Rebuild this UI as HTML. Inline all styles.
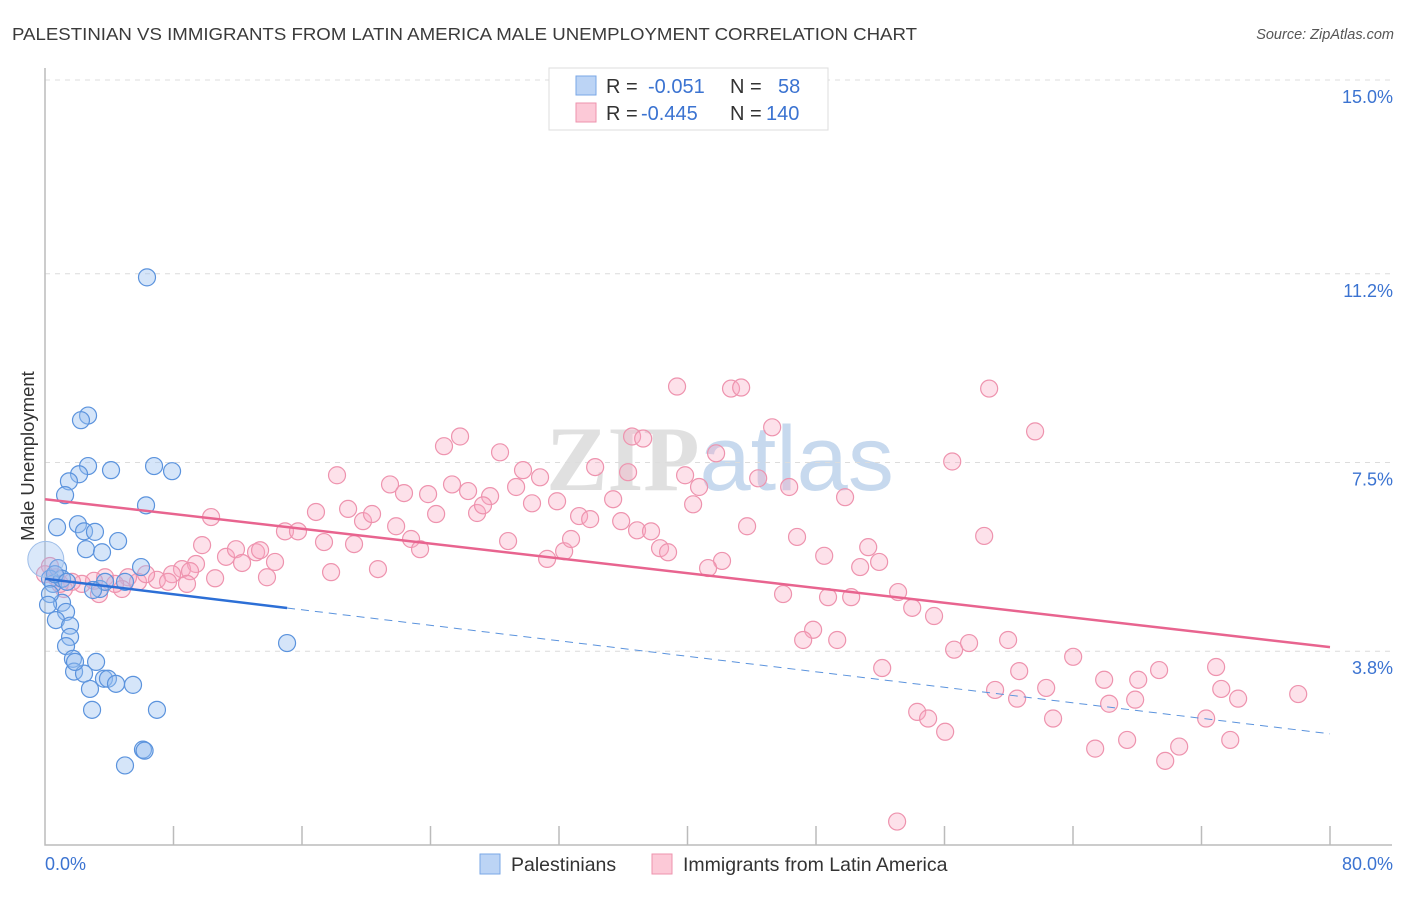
<!DOCTYPE html>
<html><head><meta charset="utf-8"><style>
body{margin:0;background:#fff;font-family:"Liberation Sans",sans-serif}
</style></head><body>
<svg id="chart" width="1406" height="892" viewBox="0 0 1406 892" xmlns="http://www.w3.org/2000/svg" font-family="Liberation Sans, sans-serif">
<text x="12" y="40" font-size="17.5" fill="#3a3a3a" textLength="905" lengthAdjust="spacingAndGlyphs">PALESTINIAN VS IMMIGRANTS FROM LATIN AMERICA MALE UNEMPLOYMENT CORRELATION CHART</text>
<text x="1394" y="39" font-size="14.5" fill="#555" font-style="italic" text-anchor="end">Source: ZipAtlas.com</text>
<text x="720" y="490" font-size="92" fill="#e0e0e0" text-anchor="middle" font-family="Liberation Serif, serif" font-weight="bold">ZIP<tspan fill="#c7d9ee" font-family="Liberation Sans, sans-serif" font-weight="normal">atlas</tspan></text>
<g id="grid"></g><g id="axes"></g><g id="marks"></g><g id="trends"></g>
<text transform="translate(34,456) rotate(-90)" font-size="18.5" fill="#333" text-anchor="middle">Male Unemployment</text>
<g>
<rect x="549" y="68" width="279" height="62" fill="#fff" stroke="#ddd"/>
<rect x="576" y="76" width="20" height="19" fill="#bcd4f5" stroke="#7aa7e6"/>
<rect x="576" y="103" width="20" height="19" fill="#fcc9d7" stroke="#ee93ae"/>
<text x="606" y="93" font-size="20" fill="#333">R = <tspan x="648" fill="#3b73d1">-0.051</tspan><tspan x="730">N =</tspan><tspan x="778" fill="#3b73d1">58</tspan></text>
<text x="606" y="120" font-size="20" fill="#333">R = <tspan x="641" fill="#3b73d1">-0.445</tspan><tspan x="730">N =</tspan><tspan x="766" fill="#3b73d1">140</tspan></text>
</g>
<g>
<rect x="480" y="854" width="20" height="20" fill="#bcd4f5" stroke="#7aa7e6"/>
<text x="511" y="871" font-size="19.5" fill="#333">Palestinians</text>
<rect x="652" y="854" width="20" height="20" fill="#fcc9d7" stroke="#ee93ae"/>
<text x="683" y="871" font-size="19.5" fill="#333">Immigrants from Latin America</text>
</g>
</svg>
<script>
const xTicks=[0,8,16,24,32,40,48,56,64,72,80];
const yTicks=[3.8,7.5,11.2,15.0];
const yTickLabels=["3.8%","7.5%","11.2%","15.0%"];
const blueX=[6.35,2.68,2.24,2.68,2.12,1.49,1.25,4.11,6.79,7.91,6.29,0.75,2.05,2.43,3.11,4.55,2.55,3.55,5.98,0.81,0.31,0.50,1.06,1.31,0.68,1.56,1.56,1.31,1.74,1.81,2.43,3.18,2.80,3.67,3.92,4.42,5.48,2.93,6.97,6.10,4.98,15.07,3.42,3.74,4.98,0.31,1.06,2.99,0.19,1.87,0.62,1.37,6.2];
const blueY=[11.13,8.42,8.33,7.43,7.27,7.13,6.86,7.35,7.43,7.33,6.66,6.23,6.29,6.15,6.14,5.96,5.80,5.74,5.45,5.43,5.22,5.12,4.75,4.57,4.41,4.30,4.08,3.90,3.65,3.40,3.36,3.59,3.06,3.26,3.26,3.16,3.14,2.65,2.65,1.87,1.56,3.96,5.02,5.16,5.16,4.92,5.22,5.00,4.71,3.59,5.31,5.16,1.85];
const pinkX=[39.35,42.71,43.34,58.78,25.84,24.84,36.55,37.24,61.64,45.27,41.78,28.33,18.18,29.76,30.82,34.25,36.30,39.85,40.72,44.40,46.33,56.48,21.48,22.35,23.85,25.34,26.34,27.71,29.33,30.32,31.88,35.37,49.81,10.34,16.87,18.87,19.80,20.36,21.86,24.35,26.90,27.27,33.25,33.94,35.87,36.86,37.73,40.35,43.71,58.47,14.94,15.75,17.37,19.24,22.79,23.35,28.83,32.32,32.75,31.26,38.29,38.79,42.15,46.82,48.51,51.25,9.78,11.27,11.89,13.14,13.39,14.32,12.27,13.82,9.40,8.53,7.91,9.03,17.81,20.73,41.28,50.75,51.93,10.59,6.97,5.79,5.17,4.79,3.74,3.05,2.30,1.68,1.18,3.36,4.36,6.29,7.66,8.84,45.95,48.75,50.19,53.11,53.99,55.35,47.82,47.20,49.32,56.60,57.53,59.96,64.01,52.12,60.65,59.15,62.33,60.52,65.94,68.06,69.36,72.91,73.23,74.28,78.02,66.25,67.87,54.30,54.98,56.04,62.76,67.37,65.38,69.74,70.61,72.29,73.79,53.05,0.68,0.31,0.93,0];
const pinkY=[8.99,8.95,8.97,8.95,8.01,7.82,8.01,7.97,8.11,8.19,7.68,7.70,7.25,7.35,7.21,7.41,7.31,7.25,7.02,7.19,7.02,7.52,7.07,6.90,6.88,7.07,6.94,6.84,7.02,6.70,6.74,6.78,6.82,6.43,6.53,6.59,6.35,6.49,6.25,6.49,6.51,6.66,6.45,6.39,6.35,6.17,6.15,6.68,6.25,6.06,6.15,6.15,5.94,5.90,6.00,5.80,5.96,5.76,6.00,5.61,5.82,5.74,5.57,6.04,5.67,5.84,5.88,5.65,5.80,5.74,5.78,5.55,5.53,5.25,5.51,5.41,5.31,5.37,5.35,5.41,5.43,5.45,5.55,5.23,5.20,5.16,5.25,5.02,5.25,5.18,5.12,5.16,5.02,4.92,5.12,5.31,5.16,5.12,4.92,4.86,4.86,4.96,4.65,4.49,4.22,4.02,4.02,3.83,3.96,4.02,3.69,3.47,3.41,3.04,3.08,2.87,3.24,3.24,3.43,3.49,3.06,2.87,2.96,2.77,2.85,2.61,2.48,2.22,2.48,2.06,1.89,1.65,1.93,2.48,2.06,0.46,5.25,5.47,5.12,5.31];
const blueTrend=[5.22,2.18];
const pinkTrend=[6.78,3.88];
const blueSolidEnd=15.07;

const NS="http://www.w3.org/2000/svg";
const X0=45,X1=1330,Y15=80,Y0=845;
function sx(v){return X0+(X1-X0)*v/80;}
function sy(v){return Y0-(Y0-Y15)*v/15;}
function mk(tag,attrs,parent){const e=document.createElementNS(NS,tag);for(const k in attrs)e.setAttribute(k,attrs[k]);document.getElementById(parent).appendChild(e);return e;}

yTicks.forEach((t,i)=>{
  const g=mk('line',{x1:45,x2:1392,y1:sy(t),y2:sy(t),stroke:'#dcdcdc','stroke-dasharray':'5,5'},'grid');
  
  
  const l=mk('text',{x:1393,y:sy(t)+23,'font-size':18,fill:'#3b73d1','text-anchor':'end'},'grid');
  l.textContent=yTickLabels[i];
  
  
});
const ax=mk('path',{d:`M45,68V845H1392`,stroke:'#bbb',fill:'none','stroke-width':1.5},'axes');


xTicks.forEach(t=>{
  if(t===0)return;
  const tk=mk('line',{x1:sx(t),x2:sx(t),y1:826,y2:845,stroke:'#bbb','stroke-width':1.5},'axes');
  
  
});
const xl0=mk('text',{x:45,y:870,'font-size':18,fill:'#3b73d1'},'axes');xl0.textContent='0.0%';


const xl1=mk('text',{x:1393,y:870,'font-size':18,fill:'#3b73d1','text-anchor':'end'},'axes');xl1.textContent='80.0%';



pinkX.forEach((v,i)=>{
  const c=mk('circle',{cx:sx(v),cy:sy(pinkY[i]),r:8.5,fill:'rgba(248,170,195,0.35)',stroke:'#ee93ae','stroke-width':1.2},'marks');
  
  
});
blueX.forEach((v,i)=>{
  const c=mk('circle',{cx:sx(v),cy:sy(blueY[i]),r:8.5,fill:'rgba(150,190,240,0.4)',stroke:'#5b93dd','stroke-width':1.2},'marks');
  
  
});
const big=mk('circle',{cx:sx(0.05),cy:sy(5.6),r:18,fill:'rgba(150,190,240,0.35)',stroke:'#9dbde8','stroke-width':1},'marks');



function ty(tr,x){return tr[0]+(tr[1]-tr[0])*x/80;}
const pt=mk('line',{x1:sx(0),y1:sy(pinkTrend[0]),x2:sx(80),y2:sy(pinkTrend[1]),stroke:'#e8648f','stroke-width':2.5},'trends');


const bt=mk('line',{x1:sx(0),y1:sy(blueTrend[0]),x2:sx(blueSolidEnd),y2:sy(ty(blueTrend,blueSolidEnd)),stroke:'#2c6fd6','stroke-width':2.5},'trends');


const bd=mk('line',{x1:sx(blueSolidEnd),y1:sy(ty(blueTrend,blueSolidEnd)),x2:sx(80),y2:sy(blueTrend[1]),stroke:'#5b93dd','stroke-width':1,'stroke-dasharray':'8,6'},'trends');


</script>
</body></html>
